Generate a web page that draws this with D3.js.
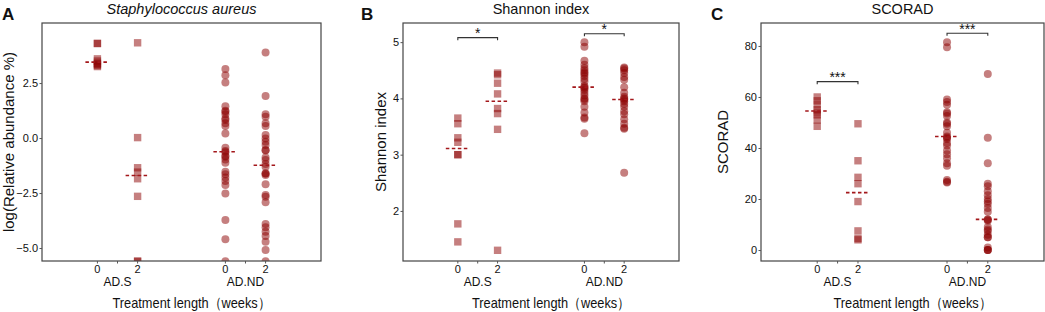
<!DOCTYPE html>
<html>
<head>
<meta charset="utf-8">
<script src="https://cdn.jsdelivr.net/npm/d3@7"></script>
<style>
  body { margin: 0; background: #fff; }
  svg { display: block; font-family: "Liberation Sans", Arial, sans-serif; }
</style>
</head>
<body>
<svg id="chart" width="1045" height="312"></svg>
<script>
// Three dot-plot panels: S. aureus abundance, Shannon index, SCORAD

const groups = ["AD.S", "AD.ND"];
const weeks = ["0", "2"];

// A: log(Relative abundance %)
const staphADS0 = [4.3, 4.3, 3.6, 3.5, 3.4, 3.35, 3.3, 3.25];
const staphADS2 = [4.33, 0.02, -1.35, -1.55, -1.85, -2.65, -5.6, -5.6];
const staphADND0 = [3.14, 2.86, 2.53, 1.45, 1.24, 1.2, 1.08, 0.89, 0.82, 0.67, 0.55, 0.21,
  -0.44, -0.59, -0.65, -0.8, -0.85, -0.97, -1.12, -1.53, -1.65, -1.79, -1.95, -2.14,
  -2.52, -3.73, -4.6, -5.6];
const staphADND2 = [3.89, 1.91, 1.08, 0.97, 0.67, 0.55, 0.14, -0.02, -0.17, -0.32, -0.55,
  -0.55, -0.89, -1.0, -1.18, -1.3, -1.61, -1.61, -1.68, -2.1, -2.59, -2.67, -2.92, -3.91,
  -4.06, -4.26, -4.45, -4.71, -5.09, -5.6];
const staphTicks = [2.5, 0, -2.5, -5];

// B: Shannon index
const shannonADS0 = [3.65, 3.55, 3.3, 3.22, 3.0, 3.0, 1.77, 1.45];
const shannonADS2 = [4.45, 4.42, 4.27, 4.08, 3.82, 3.73, 3.45, 1.3];
const shannonADND0 = [5.0, 4.92, 4.67, 4.6, 4.54, 4.5, 4.46, 4.44, 4.4, 4.35, 4.3, 4.22, 4.2,
  4.18, 4.15, 4.1, 4.05, 4.0, 3.98, 3.95, 3.85, 3.75, 3.66, 3.64, 3.38];
const shannonADND2 = [4.55, 4.53, 4.5, 4.45, 4.38, 4.33, 4.2, 4.1, 4.03, 4.0, 3.98, 3.95,
  3.9, 3.85, 3.77, 3.72, 3.63, 3.55, 3.48, 3.46, 2.68];
const shannonTicks = [2, 3, 4, 5];
const shannonSig = ["*", "*"];
const shannonBracket = [5.08, 5.15];

// C: SCORAD
const scoradADS0 = [60, 58.5, 57, 55, 54, 53, 51, 48.5];
const scoradADS2 = [49.5, 35, 28.5, 26, 19, 7.5, 4.5, 4];
const scoradADND0 = [81.5, 79.5, 59, 58, 57, 54, 53.5, 52.5, 50, 49.5, 48.5, 46, 44.5, 44,
  43.5, 42, 41, 39, 37.5, 36, 34, 33, 27.5, 26.5, 26.8];
const scoradADND2 = [69, 44, 34, 26, 25, 23, 21.5, 20, 19, 18, 16.5, 15, 12, 12, 11.5, 9, 8,
  7.5, 6, 5, 5, 1, 0, 0, 0];
const scoradTicks = [0, 20, 40, 60, 80];
const scoradSig = ["***", "***"];
const scoradBracket = [66, 85];

const TOP = 23, BOTTOM = 261;
const DOT = "#8B0000";
const MEDIAN = "#a3171b";

const panels = [
  { letter: "A", letterX: 2, title: "Staphylococcus aureus", italic: true,
    ylab: "log(Relative abundance %)", ylabX: 9, left: 42, right: 321,
    domain: [-5.59, 5.23], ticks: staphTicks, fmt: d3.format(".1f"),
    series: [staphADS0, staphADS2, staphADND0, staphADND2] },
  { letter: "B", letterX: 361, title: "Shannon index", italic: false,
    ylab: "Shannon index", ylabX: 381, left: 403, right: 679,
    domain: [1.11, 5.34], ticks: shannonTicks, fmt: d3.format("d"),
    series: [shannonADS0, shannonADS2, shannonADND0, shannonADND2],
    sig: shannonSig, bracket: shannonBracket },
  { letter: "C", letterX: 711, title: "SCORAD", italic: false,
    ylab: "SCORAD", ylabX: 723, left: 761, right: 1044,
    domain: [-4.3, 89], ticks: scoradTicks, fmt: d3.format("d"),
    series: [scoradADS0, scoradADS2, scoradADND0, scoradADND2],
    sig: scoradSig, bracket: scoradBracket }
];

const svg = d3.select("#chart");

panels.forEach((p, pi) => {
  const g = svg.append("g");

  const y = d3.scaleLinear().domain(p.domain).range([BOTTOM, TOP]);
  const xGroup = d3.scalePoint().domain(groups).range([p.left, p.right]).padding(0.59);
  const dodge = xGroup.step() * 0.157;
  const xPos = (grp, wk) => xGroup(grp) + (wk === "0" ? -dodge : dodge);

  // clip so points on the lower limit are cut like the original
  const clipId = "clip" + pi;
  g.append("clipPath").attr("id", clipId)
    .append("rect")
    .attr("x", p.left).attr("y", TOP)
    .attr("width", p.right - p.left).attr("height", BOTTOM - TOP);

  const plot = g.append("g").attr("clip-path", `url(#${clipId})`);

  groups.forEach((grp, gi) => {
    weeks.forEach((wk, wi) => {
      const vals = p.series[gi * 2 + wi];
      const cx = xPos(grp, wk);
      if (grp === "AD.S") {
        plot.selectAll(null)
          .data(vals)
          .join("rect")
          .attr("x", cx - 3.7)
          .attr("y", d => y(d) - 3.7)
          .attr("width", 7.4)
          .attr("height", 7.4)
          .attr("fill", DOT)
          .attr("fill-opacity", 0.5);
      } else {
        plot.selectAll(null)
          .data(vals)
          .join("circle")
          .attr("cx", cx)
          .attr("cy", d => y(d))
          .attr("r", 4)
          .attr("fill", DOT)
          .attr("fill-opacity", 0.5);
      }

      // median
      const med = d3.median(vals);
      plot.append("line")
        .attr("x1", cx - 12).attr("x2", cx + 12)
        .attr("y1", y(med)).attr("y2", y(med))
        .attr("stroke", MEDIAN)
        .attr("stroke-width", 1.6)
        .attr("stroke-dasharray", "3.5,2.5");
    });

    // significance bracket
    if (p.sig) {
      const x1 = xPos(grp, "0"), x2 = xPos(grp, "2");
      const by = y(p.bracket[gi]);
      g.append("path")
        .attr("d", `M${x1},${by + 2.5}V${by}H${x2}V${by + 2.5}`)
        .attr("fill", "none")
        .attr("stroke", "#333")
        .attr("stroke-width", 1.1);
      g.append("text")
        .attr("x", (x1 + x2) / 2)
        .attr("y", by + 0.5)
        .attr("text-anchor", "middle")
        .attr("font-size", "14px")
        .attr("fill", "#111")
        .text(p.sig[gi]);
    }
  });

  // panel border
  g.append("rect")
    .attr("x", p.left).attr("y", TOP)
    .attr("width", p.right - p.left).attr("height", BOTTOM - TOP)
    .attr("fill", "none")
    .attr("stroke", "#444")
    .attr("stroke-width", 1.2);

  // y axis
  const yAxis = g.append("g")
    .attr("transform", `translate(${p.left},0)`)
    .call(d3.axisLeft(y).tickValues(p.ticks).tickFormat(p.fmt).tickSize(2.5).tickPadding(1.5));
  yAxis.select(".domain").remove();
  yAxis.selectAll(".tick line").attr("stroke", "#555");
  yAxis.selectAll(".tick text")
    .attr("font-family", "Liberation Sans, Arial, sans-serif")
    .attr("font-size", "11px")
    .attr("fill", "#111");

  // x ticks: week positions and group centres
  const tickXs = [];
  groups.forEach(grp => {
    tickXs.push(xPos(grp, "0"), xGroup(grp), xPos(grp, "2"));
  });
  g.selectAll(null)
    .data(tickXs)
    .join("line")
    .attr("x1", d => d).attr("x2", d => d)
    .attr("y1", BOTTOM).attr("y2", BOTTOM + 2.5)
    .attr("stroke", "#555");

  groups.forEach(grp => {
    weeks.forEach(wk => {
      g.append("text")
        .attr("x", xPos(grp, wk))
        .attr("y", 273)
        .attr("text-anchor", "middle")
        .attr("font-size", "11px")
        .attr("fill", "#111")
        .text(wk);
    });
    g.append("text")
      .attr("x", xGroup(grp))
      .attr("y", 286)
      .attr("text-anchor", "middle")
      .attr("font-size", "12px")
      .attr("fill", "#111")
      .text(grp);
  });

  // axis titles
  const cx = (p.left + p.right) / 2;
  g.append("text")
    .attr("x", cx - 69)
    .attr("y", 308)
    .attr("font-size", "15px")
    .attr("textLength", 158)
    .attr("lengthAdjust", "spacingAndGlyphs")
    .attr("fill", "#111")
    .text("Treatment length（weeks）");

  g.append("text")
    .attr("transform", `translate(${p.ylabX},${(TOP + BOTTOM) / 2}) rotate(-90)`)
    .attr("dy", "0.35em")
    .attr("text-anchor", "middle")
    .attr("font-size", "15px")
    .attr("fill", "#111")
    .text(p.ylab);

  // title and panel letter
  g.append("text")
    .attr("x", cx)
    .attr("y", 14)
    .attr("text-anchor", "middle")
    .attr("font-size", "14.5px")
    .attr("font-style", p.italic ? "italic" : "normal")
    .attr("fill", "#111")
    .text(p.title);

  g.append("text")
    .attr("x", p.letterX)
    .attr("y", 20)
    .attr("font-size", "17px")
    .attr("font-weight", "bold")
    .attr("fill", "#111")
    .text(p.letter);
});
</script>
</body>
</html>
